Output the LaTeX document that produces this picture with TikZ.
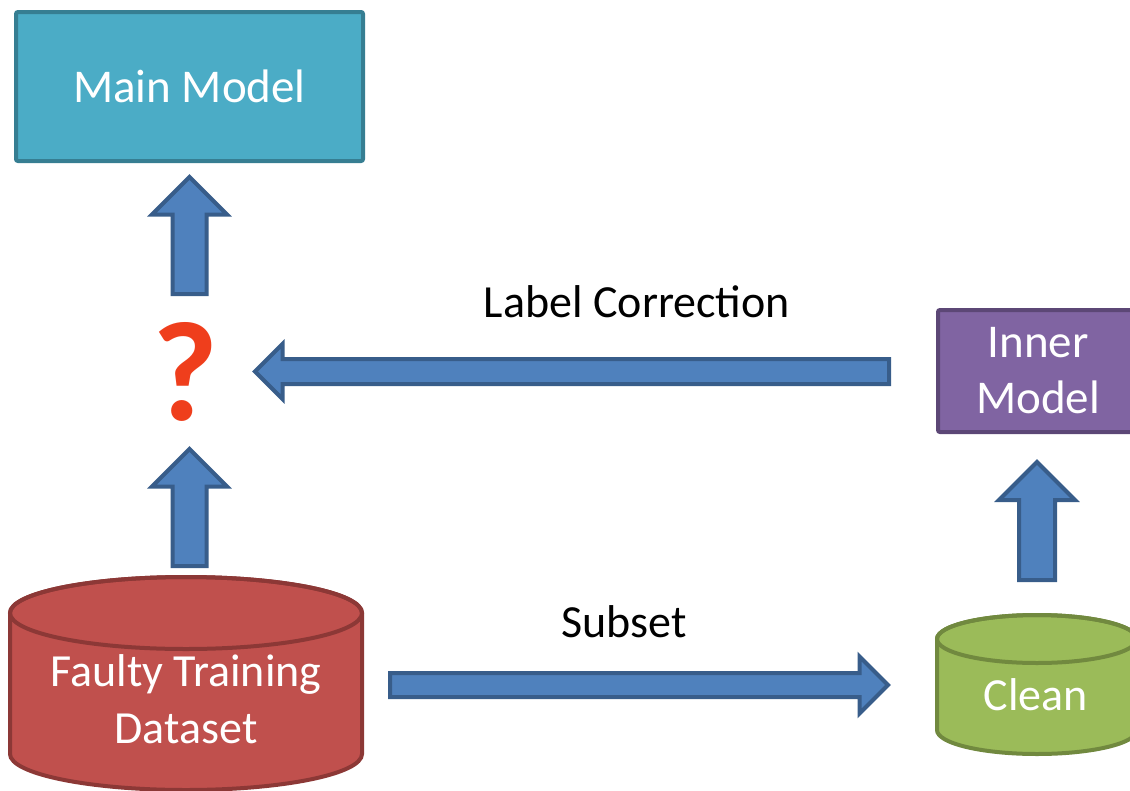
\documentclass[tikz,border=0pt]{standalone}
\usepackage{fontspec}
\setmainfont{Carlito}
\definecolor{arrfill}{HTML}{4F81BD}
\definecolor{arrline}{HTML}{385D8A}
\definecolor{mainfill}{HTML}{4BACC6}
\definecolor{mainline}{HTML}{367E92}
\definecolor{innerfill}{HTML}{8064A2}
\definecolor{innerline}{HTML}{5C4776}
\definecolor{redfill}{HTML}{C0504D}
\definecolor{redline}{HTML}{8C3836}
\definecolor{greenfill}{HTML}{9BBB59}
\definecolor{greenline}{HTML}{71893F}
\definecolor{qcol}{HTML}{EF3E1C}
\tikzset{
  box/.style={draw, line width=4pt, rounded corners=2pt, text=white, align=center,
    font=\fontsize{47}{56}\selectfont, inner sep=0pt},
  barrow/.style={draw=arrline, fill=arrfill, line width=4pt, line join=miter},
  lbl/.style={font=\fontsize{46}{56}\selectfont, text=black, anchor=base, inner sep=0pt},
  cyltext/.style={text=white, align=center, font=\fontsize{46}{57}\selectfont, inner sep=0pt},
  cylbody/.style={line width=4pt}
}
% #1 tail coordinate, #2 direction angle, #3 length, #4 head width, #5 shaft width (outer sizes)
\newcommand\blockarr[5]{%
  \begin{scope}[shift={(#1)}, rotate=#2]
    \pgfmathsetmacro\hh{(#5-4)/2}
    \pgfmathsetmacro\HH{(#4-4)/2}
    \pgfmathsetmacro\tp{#3-3}
    \pgfmathsetmacro\hb{#3-3-(#4-4)/2}
    \path[barrow] (2,-\hh) -- (\hb,-\hh) -- (\hb,-\HH) -- (\tp,0)
      -- (\hb,\HH) -- (\hb,\hh) -- (2,\hh) -- cycle;
  \end{scope}}
% cx, top ellipse cy, bottom ellipse cy, rx, ry, fill, line
\newcommand\drawcyl[7]{%
  \path[cylbody, fill=#6, draw=#7]
    (#1-#4,#2) -- (#1-#4,#3)
    arc[start angle=180, end angle=0, x radius=#4, y radius=#5]
    -- (#1+#4,#2)
    arc[start angle=0, end angle=-180, x radius=#4, y radius=#5] -- cycle;
  \draw[cylbody, draw=#7] (#1,#2) ellipse[x radius=#4, y radius=#5];}
\begin{document}
\begin{tikzpicture}[x=1pt,y=-1pt]
\useasboundingbox (0,0) rectangle (1130,790);
% boxes
\node[box, fill=mainfill, draw=mainline, minimum width=347, minimum height=149]
  (main) at (189.5,86.5) {Main Model};
\node[box, fill=innerfill, draw=innerline, minimum width=200, minimum height=122]
  (inner) at (1038,371) {Inner\\Model};
% question mark
\node[font=\bfseries\fontsize{142}{150}\selectfont, text=qcol, anchor=base, inner sep=0pt]
  (q) at (185,420) {?};
% cylinders
\drawcyl{186}{613}{754}{176}{36}{redfill}{redline}
\node[cyltext] (faulty) at (186,699) {Faulty Training\\Dataset};
\drawcyl{1037}{639}{730}{100}{24}{greenfill}{greenline}
\node[cyltext, anchor=base] (clean) at (1036,710) {Clean};
% labels
\node[lbl] (lc) at (637,317) {Label Correction};
\node[lbl] (sub) at (624,637) {Subset};
% arrow tail points
\coordinate (a1t) at (189.5,296);
\coordinate (a2t) at (189.5,568);
\coordinate (a3t) at (1037,582);
\coordinate (a4t) at (891,371.5);
\coordinate (a5t) at (388,685);
\blockarr{a1t}{90}{122}{79}{38}
\blockarr{a2t}{90}{122}{79}{38}
\blockarr{a3t}{90}{123}{80}{40}
\blockarr{a4t}{180}{639}{59}{29}
\blockarr{a5t}{0}{503}{61}{28}
\end{tikzpicture}
\end{document}
